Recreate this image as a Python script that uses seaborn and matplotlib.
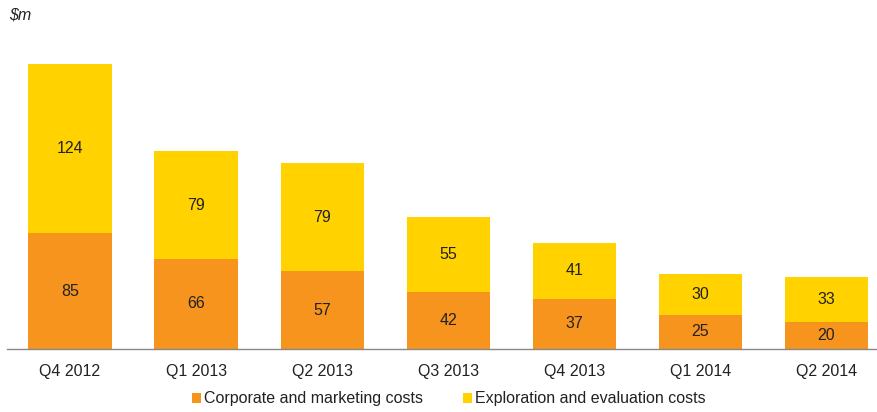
import matplotlib
matplotlib.use("Agg")
import matplotlib.pyplot as plt
import seaborn as sns
import pandas as pd
from matplotlib.patches import Patch

quarters = ["Q4 2012", "Q1 2013", "Q2 2013", "Q3 2013", "Q4 2013", "Q1 2014", "Q2 2014"]
corporate = [85, 66, 57, 42, 37, 25, 20]
exploration = [124, 79, 79, 55, 41, 30, 33]

ORANGE = "#F7941E"
YELLOW = "#FFD200"
TEXT = "#222222"
FS = 11.5

sns.set_theme(style="white")
plt.rcParams["font.family"] = ["Liberation Sans", "DejaVu Sans"]

df = pd.DataFrame({"quarter": quarters, "corporate": corporate, "exploration": exploration})
df["total"] = df["corporate"] + df["exploration"]

fig = plt.figure(figsize=(8.78, 4.12), dpi=100)
ax = fig.add_axes([7 / 878, 63 / 412, 871 / 878, 300 / 412])

# Stacked bars: totals in yellow, corporate portion drawn over in orange
sns.barplot(data=df, x="quarter", y="total", color=YELLOW, width=0.66,
            saturation=1, ax=ax, edgecolor="none")
sns.barplot(data=df, x="quarter", y="corporate", color=ORANGE, width=0.66,
            saturation=1, ax=ax, edgecolor="none")

for i, (c, e) in enumerate(zip(corporate, exploration)):
    ax.text(i, c / 2, str(c), ha="center", va="center", fontsize=FS, color=TEXT)
    ax.text(i, c + e / 2, str(e), ha="center", va="center", fontsize=FS, color=TEXT)

ax.set_xlim(-0.5, 6.41)
ax.set_ylim(0, 300 / 1.364)
ax.set_xlabel("")
ax.set_ylabel("")
ax.set_yticks([])
for side in ["top", "right", "left"]:
    ax.spines[side].set_visible(False)
ax.spines["bottom"].set_color("#888888")
ax.spines["bottom"].set_linewidth(1)
ax.tick_params(axis="x", length=0, pad=11, labelsize=FS, labelcolor=TEXT)

fig.text(9 / 878, 1 - 15 / 412, "$m", fontsize=FS, style="italic", color=TEXT,
         ha="left", va="center")

handles = [Patch(facecolor=ORANGE, edgecolor="none"),
           Patch(facecolor=YELLOW, edgecolor="none")]
fig.legend(handles, ["Corporate and marketing costs", "Exploration and evaluation costs"],
           loc="center", bbox_to_anchor=(448.5 / 878, 1 - 399 / 412), ncol=2, frameon=False,
           fontsize=FS, handlelength=0.56, handleheight=0.56, handletextpad=0.2,
           columnspacing=2.5, labelcolor=TEXT, borderpad=0, borderaxespad=0)

fig.savefig("out.png", dpi=100)
